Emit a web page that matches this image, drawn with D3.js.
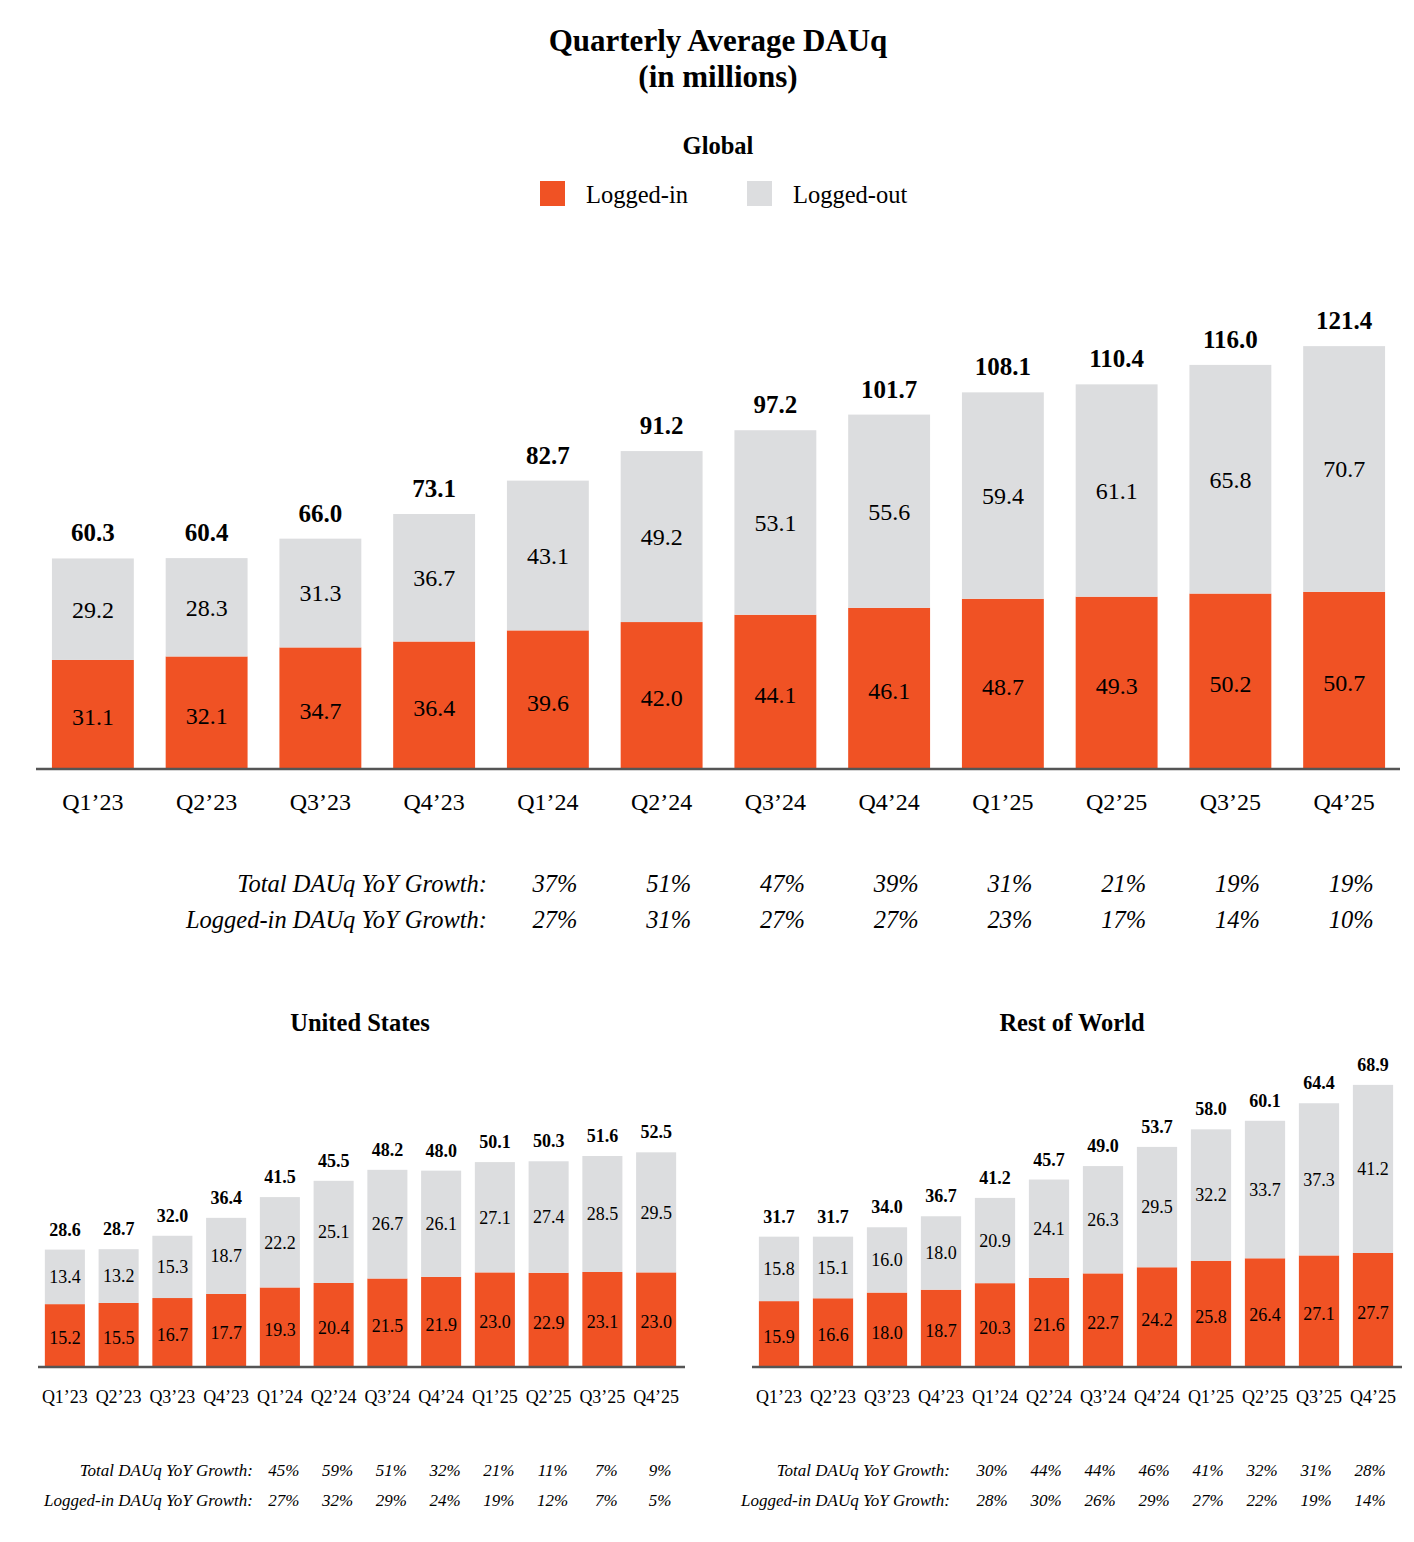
<!DOCTYPE html>
<html>
<head>
<meta charset="utf-8">
<script src="https://cdn.jsdelivr.net/npm/d3@7"></script>
<style>
  body { margin: 0; background: #fff; }
  svg { display: block; font-family: "Liberation Serif", "Times New Roman", serif; }
</style>
</head>
<body>
<div id="chart"></div>
<script>
// quarters, shared by all three panels
const quarters = ["Q1’23", "Q2’23", "Q3’23", "Q4’23", "Q1’24", "Q2’24", "Q3’24", "Q4’24", "Q1’25", "Q2’25", "Q3’25", "Q4’25"];
const growthQuarters = quarters.slice(4);

// Global
const globalIn = [31.1, 32.1, 34.7, 36.4, 39.6, 42.0, 44.1, 46.1, 48.7, 49.3, 50.2, 50.7];
const globalOut = [29.2, 28.3, 31.3, 36.7, 43.1, 49.2, 53.1, 55.6, 59.4, 61.1, 65.8, 70.7];
const globalTotal = [60.3, 60.4, 66.0, 73.1, 82.7, 91.2, 97.2, 101.7, 108.1, 110.4, 116.0, 121.4];
const globalTotalGrowth = ["37%", "51%", "47%", "39%", "31%", "21%", "19%", "19%"];
const globalInGrowth = ["27%", "31%", "27%", "27%", "23%", "17%", "14%", "10%"];

// United States
const usIn = [15.2, 15.5, 16.7, 17.7, 19.3, 20.4, 21.5, 21.9, 23.0, 22.9, 23.1, 23.0];
const usOut = [13.4, 13.2, 15.3, 18.7, 22.2, 25.1, 26.7, 26.1, 27.1, 27.4, 28.5, 29.5];
const usTotal = [28.6, 28.7, 32.0, 36.4, 41.5, 45.5, 48.2, 48.0, 50.1, 50.3, 51.6, 52.5];
const usTotalGrowth = ["45%", "59%", "51%", "32%", "21%", "11%", "7%", "9%"];
const usInGrowth = ["27%", "32%", "29%", "24%", "19%", "12%", "7%", "5%"];

// Rest of World
const rowIn = [15.9, 16.6, 18.0, 18.7, 20.3, 21.6, 22.7, 24.2, 25.8, 26.4, 27.1, 27.7];
const rowOut = [15.8, 15.1, 16.0, 18.0, 20.9, 24.1, 26.3, 29.5, 32.2, 33.7, 37.3, 41.2];
const rowTotal = [31.7, 31.7, 34.0, 36.7, 41.2, 45.7, 49.0, 53.7, 58.0, 60.1, 64.4, 68.9];
const rowTotalGrowth = ["30%", "44%", "44%", "46%", "41%", "32%", "31%", "28%"];
const rowInGrowth = ["28%", "30%", "26%", "29%", "27%", "22%", "19%", "14%"];

const ORANGE = "#F05224";
const GREY = "#DCDDDF";

const width = 1414, height = 1542;
const svg = d3.select("#chart").append("svg")
    .attr("width", width)
    .attr("height", height);

// titles
svg.append("text").attr("x", 718).attr("y", 51).attr("text-anchor", "middle")
    .attr("font-size", 31).attr("font-weight", "bold").text("Quarterly Average DAUq");
svg.append("text").attr("x", 718).attr("y", 87).attr("text-anchor", "middle")
    .attr("font-size", 31).attr("font-weight", "bold").text("(in millions)");

// legend
const legend = [["Logged-in", ORANGE, 540], ["Logged-out", GREY, 747]];
legend.forEach(function(l) {
    svg.append("rect").attr("x", l[2]).attr("y", 181).attr("width", 25).attr("height", 25).attr("fill", l[1]);
    svg.append("text").attr("x", l[2] + 46).attr("y", 194).attr("dy", "0.35em")
        .attr("font-size", 24.5).text(l[0]);
});

function panel(o) {
    const g = svg.append("g");

    const x = d3.scaleBand()
        .domain(quarters)
        .range(o.xRange)
        .paddingInner(o.padIn)
        .paddingOuter(o.padIn / 2);

    const y = d3.scaleLinear()
        .domain([0, o.yMax])
        .range([o.base, o.base - o.pxPerUnit * o.yMax]);

    g.append("text").attr("x", o.titleX).attr("y", o.titleY).attr("text-anchor", "middle")
        .attr("font-size", 24.5).attr("font-weight", "bold").text(o.title);

    const rows = quarters.map(function(q, i) {
        return { q: q, li: o.loggedIn[i], lo: o.loggedOut[i], total: o.total[i] };
    });

    // logged-in (bottom)
    g.selectAll("rect.in").data(rows).enter().append("rect")
        .attr("class", "in")
        .attr("x", function(d) { return x(d.q); })
        .attr("y", function(d) { return y(d.li); })
        .attr("width", x.bandwidth())
        .attr("height", function(d) { return y(0) - y(d.li); })
        .attr("fill", ORANGE);

    // logged-out (top)
    g.selectAll("rect.out").data(rows).enter().append("rect")
        .attr("class", "out")
        .attr("x", function(d) { return x(d.q); })
        .attr("y", function(d) { return y(d.li + d.lo); })
        .attr("width", x.bandwidth())
        .attr("height", function(d) { return y(d.li) - y(d.li + d.lo); })
        .attr("fill", GREY);

    const cx = function(d) { return x(d.q) + x.bandwidth() / 2; };

    g.selectAll("text.in").data(rows).enter().append("text")
        .attr("x", cx)
        .attr("y", function(d) { return y(d.li / 2) + o.inShift; })
        .attr("dy", "0.35em").attr("text-anchor", "middle")
        .attr("font-size", o.fs).text(function(d) { return d.li.toFixed(1); });

    g.selectAll("text.out").data(rows).enter().append("text")
        .attr("x", cx)
        .attr("y", function(d) { return y(d.li + d.lo / 2); })
        .attr("dy", "0.35em").attr("text-anchor", "middle")
        .attr("font-size", o.fs).text(function(d) { return d.lo.toFixed(1); });

    g.selectAll("text.tot").data(rows).enter().append("text")
        .attr("x", cx)
        .attr("y", function(d) { return y(d.li + d.lo) - o.totGap; })
        .attr("text-anchor", "middle").attr("font-weight", "bold")
        .attr("font-size", o.tfs).text(function(d) { return d.total.toFixed(1); });

    // baseline axis
    g.append("line")
        .attr("x1", o.axisX[0]).attr("x2", o.axisX[1])
        .attr("y1", y(0) + 1).attr("y2", y(0) + 1)
        .attr("stroke", "#555").attr("stroke-width", 2.5);

    g.selectAll("text.q").data(quarters).enter().append("text")
        .attr("x", function(d) { return x(d) + x.bandwidth() / 2; })
        .attr("y", o.tickY).attr("dy", "0.35em").attr("text-anchor", "middle")
        .attr("font-size", o.fs).text(function(d) { return d; });

    // growth rows
    const growth = [["Total DAUq YoY Growth:", o.totalGrowth, o.growthY[0]],
                    ["Logged-in DAUq YoY Growth:", o.inGrowth, o.growthY[1]]];
    growth.forEach(function(r) {
        g.append("text").attr("x", o.growthLabelX).attr("y", r[2]).attr("dy", "0.35em")
            .attr("text-anchor", "end").attr("font-style", "italic")
            .attr("font-size", o.gfs).text(r[0]);
        g.selectAll(null).data(r[1]).enter().append("text")
            .attr("x", function(d, i) { return x(growthQuarters[i]) + x.bandwidth() / 2 + o.growthShift; })
            .attr("y", r[2]).attr("dy", "0.35em").attr("text-anchor", "middle")
            .attr("font-style", "italic").attr("font-size", o.gfs).text(function(d) { return d; });
    });
}

panel({
    title: "Global", titleX: 718, titleY: 154,
    loggedIn: globalIn, loggedOut: globalOut, total: globalTotal,
    totalGrowth: globalTotalGrowth, inGrowth: globalInGrowth,
    xRange: [36, 1401], padIn: 0.28, axisX: [36, 1400],
    base: 768, pxPerUnit: 3.475, yMax: 125,
    fs: 24, tfs: 25, gfs: 24.5, totGap: 17, inShift: 3,
    tickY: 802, growthY: [883, 919], growthLabelX: 487, growthShift: 7
});

panel({
    title: "United States", titleX: 360, titleY: 1031,
    loggedIn: usIn, loggedOut: usOut, total: usTotal,
    totalGrowth: usTotalGrowth, inGrowth: usInGrowth,
    xRange: [38, 683], padIn: 0.255, axisX: [38, 685],
    base: 1366, pxPerUnit: 4.07, yMax: 55,
    fs: 18, tfs: 18, gfs: 17, totGap: 14, inShift: 3,
    tickY: 1397, growthY: [1470, 1500], growthLabelX: 253, growthShift: 4
});

panel({
    title: "Rest of World", titleX: 1072, titleY: 1031,
    loggedIn: rowIn, loggedOut: rowOut, total: rowTotal,
    totalGrowth: rowTotalGrowth, inGrowth: rowInGrowth,
    xRange: [752, 1400], padIn: 0.255, axisX: [752, 1402],
    base: 1366, pxPerUnit: 4.08, yMax: 70,
    fs: 18, tfs: 18, gfs: 17, totGap: 14, inShift: 3,
    tickY: 1397, growthY: [1470, 1500], growthLabelX: 950, growthShift: -3
});
</script>
</body>
</html>
